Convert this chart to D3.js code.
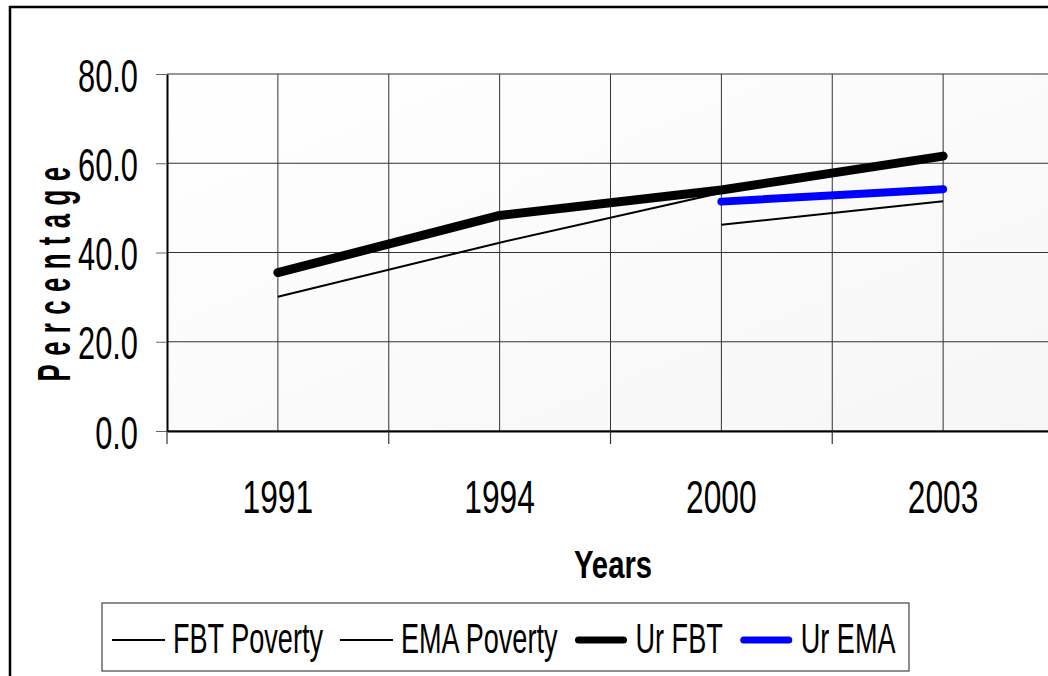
<html>
<head>
<script src="https://cdn.jsdelivr.net/npm/d3@7/dist/d3.min.js"></script>
<style>
    body { margin: 0; background: #ffffff; }
    text { font-family: "Liberation Sans", Arial, sans-serif; fill: #000; }
</style>
</head>
<body>
<script>
    // chart values
    var years = ["1991", "1994", "2000", "2003"];
    var fbtPoverty = [30.1, 42.2, 53.4, null];
    var emaPoverty = [null, null, 46.2, 51.5];
    var urFbt = [35.5, 48.3, 54.0, 61.6];
    var urEma = [null, null, 51.4, 54.2];
    var yTicks = [0, 20, 40, 60, 80];
    var seriesNames = ["FBT Poverty", "EMA Poverty", "Ur FBT", "Ur EMA"];

    // core settings
    var width = 1048, height = 676;
    var plotLeft = 167, plotRight = 1054, plotTop = 74, plotBottom = 431;

    // how each series is drawn
    var series = [
        { name: seriesNames[0], values: fbtPoverty, colour: "#000000", size: 2 },
        { name: seriesNames[1], values: emaPoverty, colour: "#000000", size: 2 },
        { name: seriesNames[2], values: urFbt, colour: "#000000", size: 9 },
        { name: seriesNames[3], values: urEma, colour: "#0000ff", size: 8 }
    ];

    var svg = d3.select("body")
        .append("svg")
        .attr("width", width)
        .attr("height", height);

    // condensed looking text: place with translate, squeeze with scale
    function squashText(parent, x, y, str, size, k, anchor, bold) {
        return parent.append("text")
            .attr("transform", "translate(" + x + "," + y + ") scale(" + k + ",1)")
            .attr("text-anchor", anchor)
            .style("font-size", size + "px")
            .style("font-weight", bold ? "bold" : "normal")
            .text(str);
    }

    // outer chart frame
    svg.append("rect")
        .attr("x", 10).attr("y", 7)
        .attr("width", 1100).attr("height", 720)
        .attr("fill", "#ffffff")
        .attr("stroke", "#000")
        .attr("stroke-width", 2.5);

    // plot area background, faint gradient
    var grad = svg.append("defs").append("linearGradient")
        .attr("id", "plotBg")
        .attr("x1", "0%").attr("y1", "0%")
        .attr("x2", "100%").attr("y2", "100%");
    grad.append("stop").attr("offset", "0%").attr("stop-color", "#ffffff");
    grad.append("stop").attr("offset", "100%").attr("stop-color", "#f6f6f6");

    var x = d3.scaleBand()
        .domain(years)
        .range([plotLeft, plotRight])
        .paddingInner(0)
        .paddingOuter(0);

    var y = d3.scaleLinear()
        .domain([0, 80])
        .range([plotBottom, plotTop]);

    svg.append("rect")
        .attr("x", plotLeft).attr("y", plotTop)
        .attr("width", plotRight - plotLeft)
        .attr("height", plotBottom - plotTop)
        .attr("fill", "url(#plotBg)");

    // horizontal grid lines
    svg.append("g")
        .selectAll("line")
        .data(yTicks)
        .enter()
        .append("line")
        .attr("x1", plotLeft).attr("x2", plotRight)
        .attr("y1", d => y(d)).attr("y2", d => y(d))
        .attr("stroke", "#333")
        .attr("stroke-width", 1);

    // vertical grid lines at category centres and category edges
    var vLines = [];
    years.forEach(function (d, i) {
        if (i > 0) vLines.push(x(d));
        vLines.push(x(d) + x.bandwidth() / 2);
    });
    svg.append("g")
        .selectAll("line")
        .data(vLines)
        .enter()
        .append("line")
        .attr("x1", d => d).attr("x2", d => d)
        .attr("y1", plotTop).attr("y2", plotBottom)
        .attr("stroke", "#333")
        .attr("stroke-width", 1);

    // y axis
    var yAxisGroup = svg.append("g")
        .attr("transform", "translate(" + plotLeft + ",0)");
    var yAxis = d3.axisLeft(y)
        .tickValues(yTicks)
        .tickFormat(d3.format(".1f"))
        .tickSize(11)
        .tickSizeOuter(0);
    yAxis(yAxisGroup);
    yAxisGroup.select(".domain").attr("stroke", "#000").attr("stroke-width", 2);
    yAxisGroup.selectAll(".tick line").attr("stroke", "#666");
    yAxisGroup.selectAll(".tick text")
        .attr("x", null)
        .attr("dy", "0.37em")
        .attr("transform", "translate(-29,0) scale(0.67,1)")
        .style("font-size", "46px");

    // x axis: labels at the centres, tick marks at the edges
    var xAxisGroup = svg.append("g")
        .attr("transform", "translate(0," + plotBottom + ")");
    var xAxis = d3.axisBottom(x)
        .tickSize(0)
        .tickSizeOuter(0);
    xAxis(xAxisGroup);
    xAxisGroup.select(".domain").attr("stroke", "#000").attr("stroke-width", 2);
    xAxisGroup.selectAll(".tick text")
        .attr("y", null)
        .attr("dy", null)
        .attr("transform", "translate(0,82) scale(0.69,1)")
        .style("font-size", "46px");

    var edges = years.map(d => x(d)).concat([x.range()[1]]);
    xAxisGroup.selectAll(".edge")
        .data(edges)
        .enter()
        .append("line")
        .attr("class", "edge")
        .attr("x1", d => d).attr("x2", d => d)
        .attr("y1", 0).attr("y2", 13)
        .attr("stroke", "#333")
        .attr("stroke-width", 1.2);

    // axis titles
    squashText(svg, 613, 578, "Years", 38, 0.77, "middle", true);

    svg.append("text")
        .attr("transform", "translate(70,270) rotate(-90) scale(0.56,1)")
        .attr("text-anchor", "middle")
        .style("font-size", "46px")
        .style("font-weight", "bold")
        .style("letter-spacing", "15px")
        .text("Percentage");

    // the lines
    var line = d3.line()
        .defined(d => d.v != null)
        .x(d => x(d.year) + x.bandwidth() / 2)
        .y(d => y(d.v));

    series.forEach(function (s) {
        var pts = years.map((yr, i) => ({ year: yr, v: s.values[i] }));
        svg.append("path")
            .datum(pts)
            .attr("fill", "none")
            .attr("stroke", s.colour)
            .attr("stroke-width", s.size)
            .attr("stroke-linecap", s.size > 3 ? "round" : "butt")
            .attr("stroke-linejoin", "round")
            .attr("d", line);
    });

    // legend
    var legend = svg.append("g");
    legend.append("rect")
        .attr("x", 102).attr("y", 603)
        .attr("width", 807).attr("height", 68)
        .attr("fill", "#ffffff")
        .attr("stroke", "#444")
        .attr("stroke-width", 1.2);

    var lx = 112, legendK = 0.63;
    series.forEach(function (s) {
        legend.append("line")
            .attr("x1", lx + (s.size > 3 ? 4 : 0)).attr("x2", lx + 53 - (s.size > 3 ? 4 : 0))
            .attr("y1", 640).attr("y2", 640)
            .attr("stroke", s.colour)
            .attr("stroke-width", s.size > 3 ? 7 : 2)
            .attr("stroke-linecap", s.size > 3 ? "round" : "butt");
        var t = squashText(legend, lx + 61, 653, s.name, 43, legendK, "start", false);
        lx += 61 + t.node().getComputedTextLength() * legendK + 17;
    });
</script>
</body>
</html>
